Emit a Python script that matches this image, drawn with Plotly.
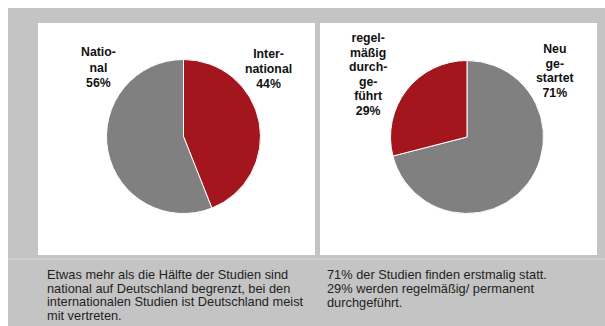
import plotly.graph_objects as go

W, H = 605, 326

# ---- data ----
pie1_labels = ["International", "National"]
pie1_values = [44, 56]
pie1_text = [["Inter-", "national", "44%"], ["Natio-", "nal", "56%"]]

pie2_labels = ["Neu gestartet", "regelmäßig durchgeführt"]
pie2_values = [71, 29]
pie2_text = [["Neu", "ge-", "startet", "71%"],
             ["regel-", "mäßig", "durch-", "ge-", "führt", "29%"]]

left_caption = ["Etwas mehr als die Hälfte der Studien sind",
                "national auf Deutschland begrenzt, bei den",
                "internationalen Studien ist Deutschland meist",
                "mit vertreten."]
right_caption = ["71% der Studien finden erstmalig statt.",
                 "29% werden regelmäßig/ permanent",
                 "durchgeführt."]

RED = "#a3161d"
GRAY = "#808080"
BG = "#c4c4c4"


def px(x):
    return x / W


def py(y):
    return 1 - y / H


def dom(cx, cy, r):
    return dict(x=[px(cx - r), px(cx + r)], y=[py(cy + r), py(cy - r)])


fig = go.Figure()
fig.add_trace(go.Pie(labels=pie1_labels, values=pie1_values, sort=False,
                     direction="clockwise", rotation=0, textinfo="none",
                     hoverinfo="label+percent",
                     marker=dict(colors=[RED, GRAY], line=dict(color="white", width=1)),
                     domain=dom(183.5, 136.5, 77), showlegend=False))
fig.add_trace(go.Pie(labels=pie2_labels, values=pie2_values, sort=False,
                     direction="clockwise", rotation=0, textinfo="none",
                     hoverinfo="label+percent",
                     marker=dict(colors=[GRAY, RED], line=dict(color="white", width=1)),
                     domain=dom(467, 137, 76.5), showlegend=False))

shapes = [
    dict(type="rect", xref="paper", yref="paper", x0=px(8), x1=px(605), y0=py(326), y1=py(8),
         fillcolor=BG, line=dict(width=0), layer="below"),
    dict(type="rect", xref="paper", yref="paper", x0=px(38), x1=px(315), y0=py(255), y1=py(23),
         fillcolor="white", line=dict(width=0), layer="below"),
    dict(type="rect", xref="paper", yref="paper", x0=px(320), x1=px(597), y0=py(255), y1=py(23),
         fillcolor="white", line=dict(width=0), layer="below"),
    dict(type="line", xref="paper", yref="paper", x0=px(8), x1=px(605), y0=py(259), y1=py(259),
         line=dict(color="#d6d6d6", width=1), layer="below"),
]

FAM = "Liberation Sans, Arial, sans-serif"


def block(lines, size, step, bold=False):
    """One text block; line step controlled by the annotation font size (1.3 em)."""
    parts = []
    for t in lines:
        s = '<span style="font-size:%.1fpx">%s</span>' % (size, t)
        parts.append("<b>" + s + "</b>" if bold else s)
    return "<br>".join(parts), step / 1.3


ann = []
# (center x, first line y, line step, lines)
label_pos = [(268, 53, 15, pie1_text[0]), (98, 52, 15.5, pie1_text[1]),
             (555, 48, 14.7, pie2_text[0]), (368, 37, 14.6, pie2_text[1])]
for x, y0, step, lines in label_pos:
    txt, fs = block(lines, 12.3, step, bold=True)
    ann.append(dict(x=px(x), y=py(y0 - step / 2 - 1), xref="paper", yref="paper", text=txt,
                    showarrow=False, xanchor="center", yanchor="top", align="center",
                    font=dict(family=FAM, size=fs, color="#111111")))

for x, y0, step, lines in [(45, 273, 13.5, left_caption), (325, 273, 14.2, right_caption)]:
    txt, fs = block(lines, 12.8, step)
    ann.append(dict(x=px(x), y=py(y0 - step / 2 - 1), xref="paper", yref="paper", text=txt,
                    showarrow=False, xanchor="left", yanchor="top", align="left",
                    font=dict(family=FAM, size=fs, color="#1e1e1e")))

fig.update_layout(width=W, height=H, margin=dict(l=0, r=0, t=0, b=0),
                  paper_bgcolor="white", plot_bgcolor="white",
                  shapes=shapes, annotations=ann, showlegend=False)
fig.write_html("out.html")
